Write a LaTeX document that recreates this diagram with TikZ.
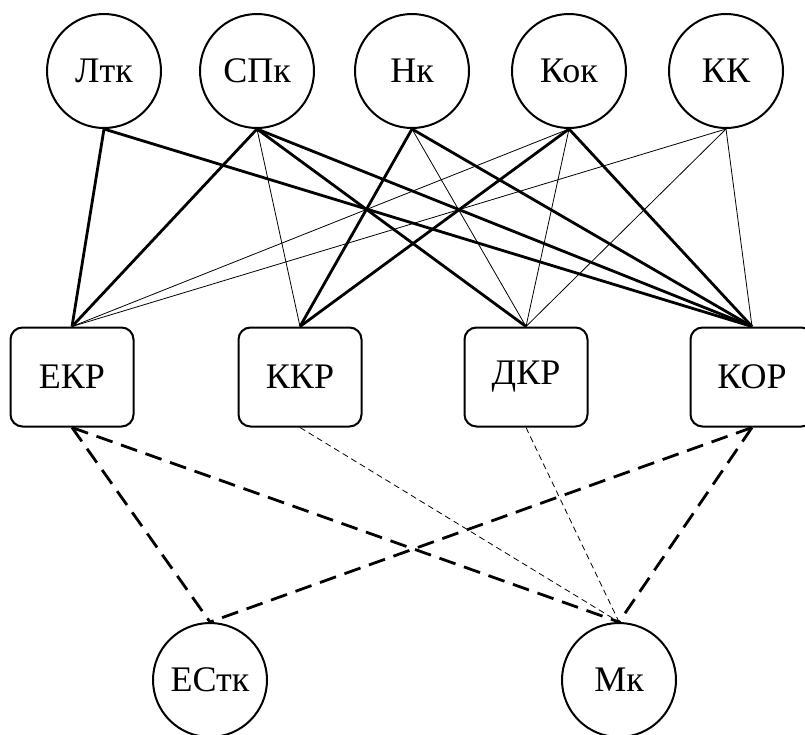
\documentclass[tikz,border=0pt]{standalone}
\usepackage{fontspec}
\setmainfont{Liberation Serif}
\begin{document}
\begin{tikzpicture}[x=1pt, y=1pt,
		every node/.style={font=\fontsize{36}{40}\selectfont, line width=2pt, inner sep=0pt},
		factor/.style={draw, circle, minimum size=114pt},
		kind/.style={draw, rectangle, rounded corners=12pt, minimum width=123pt, minimum height=99pt},
		strong/.style={line width=2.8pt},
		weak/.style={line width=0.8pt},
		strongdash/.style={line width=2.8pt, dash pattern=on 17pt off 9pt},
		weakdash/.style={line width=0.8pt, dash pattern=on 6pt off 4pt}]
		\useasboundingbox (0, 0) rectangle (805, -734);

		\node[factor] (ltk) at (104, -71) {Лтк};
		\node[factor] (spk) at (257, -71) {СПк};
		\node[factor] (nk) at (412, -71) {Нк};
		\node[factor] (kok) at (569, -71) {Кок};
		\node[factor] (kk) at (726, -71) {КК};

		\node[kind] (ekr) at (72, -377) {ЕКР};
		\node[kind] (kkr) at (300, -377) {ККР};
		\node[kind] (dkr) at (526, -377) {ДКР};
		\node[kind] (kor) at (752, -377) {КОР};

		\node[factor] (estk) at (210, -680) {ЕСтк};
		\node[factor] (mk) at (619, -680) {Мк};

		\draw[strong] (ltk.south) edge (ekr.north);
		\draw[strong] (ltk.south) edge (kor.north);
		\draw[strong] (spk.south) edge (ekr.north);
		\draw[weak] (spk.south) edge (kkr.north);
		\draw[strong] (spk.south) edge (dkr.north);
		\draw[strong] (spk.south) edge (kor.north);
		\draw[strong] (nk.south) edge (kkr.north);
		\draw[weak] (nk.south) edge (dkr.north);
		\draw[strong] (nk.south) edge (kor.north);
		\draw[weak] (kok.south) edge (ekr.north);
		\draw[strong] (kok.south) edge (kkr.north);
		\draw[weak] (kok.south) edge (dkr.north);
		\draw[strong] (kok.south) edge (kor.north);
		\draw[weak] (kk.south) edge (ekr.north);
		\draw[weak] (kk.south) edge (dkr.north);
		\draw[weak] (kk.south) edge (kor.north);

		\draw[strongdash] (ekr.south) edge (estk.north);
		\draw[strongdash] (ekr.south) edge (mk.north);
		\draw[weakdash] (kkr.south) edge (mk.north);
		\draw[weakdash] (dkr.south) edge (mk.north);
		\draw[strongdash] (kor.south) edge (estk.north);
		\draw[strongdash] (kor.south) edge (mk.north);
	\end{tikzpicture}
\end{document}
